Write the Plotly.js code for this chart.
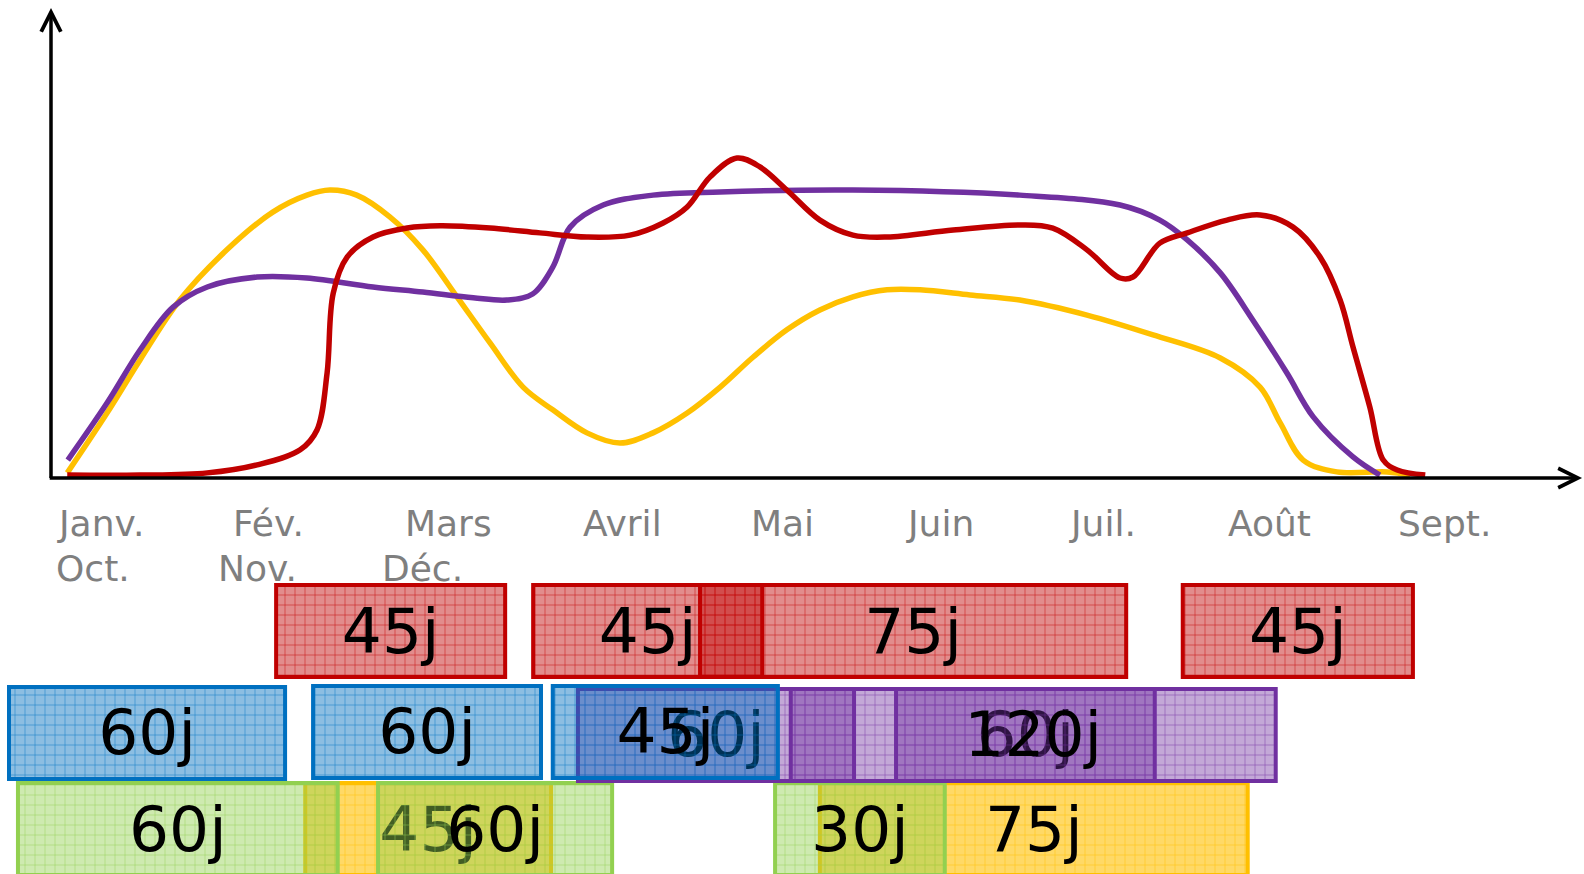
<!DOCTYPE html>
<html>
<head>
<meta charset="utf-8">
<script src="https://cdn.plot.ly/plotly-3.0.1.min.js"></script>
<style>html,body{margin:0;padding:0;background:#fff;}#chart{width:1584px;height:874px;}</style>
</head>
<body>
<div id="chart"></div>
<script>
// ---- Curves (x in days from the origin, y in relative intensity) ----
var yellowX = [2.9,10.0,15.9,23.0,31.4,39.6,45.7,49.8,54.6,60.5,66.4,72.5,78.4,84.3,89.6,95.7,101.6,107.5,113.6,119.5,125.4,131.4,137.3,143.2,149.3,155.2,164.1,173.0,185.0,196.8,208.8,215.9,219.5,223.6,229.6,238.6,242.7];
var yellowY = [1.6,20.3,36.9,55.6,71.3,83.1,88.4,90.0,88.4,81.6,71.3,56.6,42.2,28.4,21.3,14.1,10.9,14.1,20.3,28.4,37.8,46.3,52.5,56.6,58.8,58.8,57.2,55.6,50.9,44.7,37.5,28.4,17.2,5.6,1.9,1.9,0.9];

var purpleX = [3.0,10.0,15.9,21.8,27.9,36.8,45.7,57.5,66.4,75.4,81.4,86.0,89.6,92.7,98.6,107.5,119.5,143.2,173.0,190.9,198.0,202.9,208.8,214.6,220.7,225.4,232.5,237.3];
var purpleY = [5.6,23.4,40.0,53.4,59.7,62.8,62.5,59.7,58.1,56.3,55.6,57.5,65.9,78.4,85.3,88.4,89.4,90.0,88.4,85.3,80.6,74.4,64.1,49.4,32.8,19.1,6.6,0.9];

var redX = [2.9,15.9,27.9,36.8,44.5,47.5,49.3,50.4,52.9,57.5,63.6,69.5,78.4,87.3,95.7,103.4,109.3,113.6,117.7,122.5,126.6,131.4,137.3,143.2,149.3,161.1,173.0,178.9,185.0,190.9,193.2,198.0,202.9,210.0,215.9,221.8,226.6,230.2,232.5,235.5,237.9,240.4,245.4];
var redY = [0.9,0.9,1.6,4.1,8.8,15.0,32.8,57.8,69.1,75.3,78.1,78.8,78.1,76.6,75.3,75.9,79.7,84.7,94.1,100.0,97.2,90.0,80.6,75.9,75.3,77.5,79.1,78.1,71.3,62.5,62.8,73.4,76.6,80.6,82.2,78.4,69.1,55.6,40.9,22.2,5.6,2.5,0.9];

// ---- Month labels ----
var monthsTop = ["Janv.","Fév.","Mars","Avril","Mai","Juin","Juil.","Août","Sept."];
var monthsTopX = [8.9,38.9,70.9,102.0,130.7,158.8,187.7,217.5,248.9];
var monthsBottom = ["Oct.","Nov.","Déc."];
var monthsBottomX = [7.5,36.8,66.4];

// ---- Duration bars (start day, length in days, label, row) ----
var yellowStart = [45.4,137.3];   var yellowLen = [43.9,76.4];   var yellowLabel = ["45j","75j"];   var yellowRow = [0,0];
var greenStart  = [-5.9,58.4,129.3]; var greenLen = [57.1,41.8,30.3]; var greenLabel = ["60j","60j","30j"]; var greenRow = [0,0,0];
var purpleStart = [150.9,94.1,132.1]; var purpleLen = [46.2,49.3,86.6]; var purpleLabel = ["60j","60j","120j"]; var purpleRow = [0.95,0.95,0.95];
var blueStart   = [-7.5,46.8,89.6]; var blueLen = [49.3,40.7,40.2]; var blueLabel = ["60j","60j","45j"]; var blueRow = [0.97,0.98,0.98];
var redStart    = [40.2,86.1,115.9,202.1]; var redLen = [40.9,40.9,76.1,41.1]; var redLabel = ["45j","45j","75j","45j"]; var redRow = [2,2,2,2];

function barTrace(starts, lens, labels, rows, fill, line) {
  return {
    type: 'bar', orientation: 'h', xaxis: 'x', yaxis: 'y2',
    base: starts, x: lens, y: rows, text: labels,
    width: 0.93,
    textposition: 'inside', insidetextanchor: 'middle', textangle: 0, constraintext: 'none',
    textfont: {family: 'DejaVu Sans', size: 63, color: '#000'},
    marker: {color: fill, line: {color: line, width: 4},
             pattern: {shape: '+', fillmode: 'overlay', fgcolor: line, fgopacity: 0.75, size: 10, solidity: 0.12}},
    hoverinfo: 'skip', cliponaxis: false
  };
}

function lineTrace(x, y, color) {
  return {type: 'scatter', mode: 'lines', x: x, y: y, xaxis: 'x', yaxis: 'y',
          line: {color: color, width: 5.5, shape: 'spline', smoothing: 1.0}, hoverinfo: 'skip'};
}

var data = [
  barTrace(yellowStart, yellowLen, yellowLabel, yellowRow, 'rgba(255,192,0,0.6)', '#FFC000'),
  barTrace(greenStart, greenLen, greenLabel, greenRow, 'rgba(146,208,80,0.45)', '#92D050'),
  barTrace(purpleStart, purpleLen, purpleLabel, purpleRow, 'rgba(112,48,160,0.42)', '#7030A0'),
  barTrace(blueStart, blueLen, blueLabel, blueRow, 'rgba(0,112,192,0.45)', '#0070C0'),
  barTrace(redStart, redLen, redLabel, redRow, 'rgba(192,0,0,0.45)', '#C00000'),
  lineTrace(yellowX, yellowY, '#FFC000'),
  lineTrace(purpleX, purpleY, '#7030A0'),
  lineTrace(redX, redY, '#C00000')
];

var annotations = [];
monthsTop.forEach(function (m, i) {
  annotations.push({text: m, x: monthsTopX[i], xref: 'x', y: 0.4016, yref: 'paper',
    showarrow: false, xanchor: 'center', yanchor: 'middle',
    font: {family: 'DejaVu Sans', size: 36, color: '#7F7F7F'}});
});
monthsBottom.forEach(function (m, i) {
  annotations.push({text: m, x: monthsBottomX[i], xref: 'x', y: 0.349, yref: 'paper',
    showarrow: false, xanchor: 'center', yanchor: 'middle',
    font: {family: 'DejaVu Sans', size: 36, color: '#7F7F7F'}});
});
// axis arrows
annotations.push({x: 0, y: 146.9, xref: 'x', yref: 'y', ax: 0, ay: -0.5, axref: 'x', ayref: 'y',
  text: '', showarrow: true, arrowhead: 5, arrowsize: 1.1, arrowwidth: 3.5, arrowcolor: '#000'});
annotations.push({x: 273.4, y: 0, xref: 'x', yref: 'y', ax: -0.5, ay: 0, axref: 'x', ayref: 'y',
  text: '', showarrow: true, arrowhead: 5, arrowsize: 1.1, arrowwidth: 3.5, arrowcolor: '#000'});

var hidden = {showgrid: false, zeroline: false, showticklabels: false, ticks: '', showline: false, fixedrange: true};

var layout = {
  width: 1584, height: 874,
  margin: {l: 0, r: 0, t: 0, b: 0},
  paper_bgcolor: '#fff', plot_bgcolor: 'rgba(0,0,0,0)',
  showlegend: false, barmode: 'overlay',
  xaxis: Object.assign({}, hidden, {domain: [0, 1], range: [-9.107, 273.75], anchor: 'y'}),
  yaxis: Object.assign({}, hidden, {domain: [0.4531, 1], range: [0, 149.375], anchor: 'x'}),
  yaxis2: Object.assign({}, hidden, {domain: [0, 0.33638], range: [-0.4545, 2.5152], anchor: 'x'}),
  annotations: annotations
};

Plotly.newPlot('chart', data, layout, {staticPlot: true, displayModeBar: false});
</script>
</body>
</html>
